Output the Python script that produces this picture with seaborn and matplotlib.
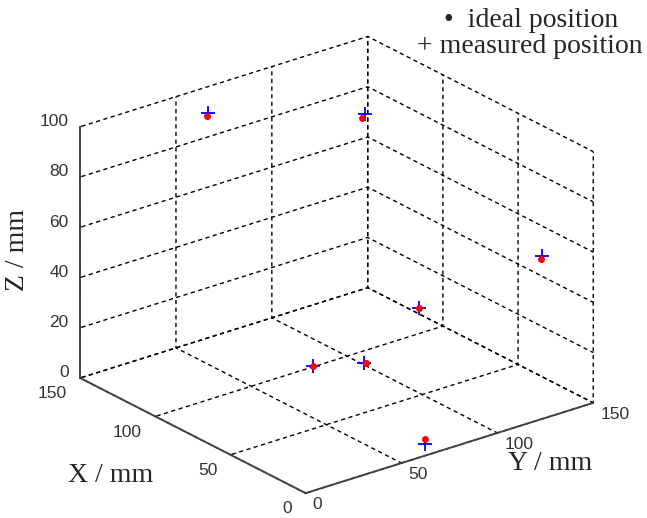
import matplotlib
matplotlib.use("Agg")
import numpy as np
import matplotlib.pyplot as plt
import seaborn as sns
from mpl_toolkits.mplot3d import proj3d

sns.set_style("white")
plt.rcParams['font.family'] = ['Liberation Sans', 'DejaVu Sans']

# --- data (mm) ---
ideal_x = [127, 86, 28, 80, 101, 90, 13.5]
ideal_y = [48, 97, 144.5, 121.6, 83, 102, 73]
ideal_z = [100, 100, 50, 20, 0, 0, 0]

meas_x = [127, 86.5, 28, 80, 101, 90.4, 9.5]
meas_y = [48.7, 98.6, 145, 121.6, 83, 101.2, 69.6]
meas_z = [101, 101, 51, 20, 0, 0, 0]

xy_ticks = [0, 50, 100, 150]
z_ticks = [0, 20, 40, 60, 80, 100]

W, H = 647, 518
fig = plt.figure(figsize=(W / 100, H / 100), dpi=100)
side = 568
cx, cy = 329, 272.5
ax = fig.add_axes([(cx - side / 2) / W, 1 - (cy + side / 2) / H, side / W, side / H],
                  projection='3d')
ax.set_proj_type('ortho')
ax.view_init(elev=23.6, azim=-38.1)

ax.plot(meas_x, meas_y, meas_z, linestyle='none', marker='+', color='blue',
        markersize=10, markeredgewidth=1.3)
ax.plot(ideal_x, ideal_y, ideal_z, linestyle='none', marker='o', color='red',
        markersize=5, markeredgewidth=0)

ax.set_xlim(150, 0)
ax.set_ylim(0, 150)
ax.set_zlim(0, 100)
ax.set_xticks(xy_ticks)
ax.set_yticks(xy_ticks)
ax.set_zticks(z_ticks)
ax.zaxis.set_ticks_position('lower')

GRID_LW = 1.0
DASH = (3.0, 2.5)
for axis in (ax.xaxis, ax.yaxis, ax.zaxis):
    axis.pane.set_facecolor((1, 1, 1, 0))
    axis.pane.set_edgecolor('none')
    axis._axinfo['grid'].update(color='black', linewidth=GRID_LW, linestyle=(0, DASH))
    axis._axinfo['tick'].update(inward_factor=0.0, outward_factor=0.1)
    axis.line.set_color('#444444')
    axis.line.set_linewidth(1.4)

ax.tick_params(labelsize=12.5, colors='#333333')
ax.xaxis.set_tick_params(pad=1.8)
ax.yaxis.set_tick_params(pad=-1.5)
ax.zaxis.set_tick_params(pad=-3.3)
plt.setp(ax.get_xticklabels(), ha='right', va='center')
plt.setp(ax.get_yticklabels(), ha='left', va='center')
plt.setp(ax.get_zticklabels(), ha='right', va='baseline')

fig.text(18 / W, 1 - 250 / H, "Z / mm", rotation=90, ha='center', va='center',
         family='Liberation Serif', fontsize=20)
fig.text(111 / W, 1 - 475 / H, "X / mm", ha='center', va='center',
         family='Liberation Serif', fontsize=20)
fig.text(550 / W, 1 - 463 / H, "Y / mm", ha='center', va='center',
         family='Liberation Serif', fontsize=20)
fig.text(531 / W, 1 - 27 / H, "\u2022  ideal position", ha='center', va='baseline',
         family='Liberation Serif', fontsize=20)
fig.text(530 / W, 1 - 53 / H, "+ measured position", ha='center', va='baseline',
         family='Liberation Serif', fontsize=20)

# grid lines overlap along the back edges of the box; shift the dash phase of
# each axis so that the overlapping dashes coincide instead of filling the gaps
fig.canvas.draw()


def edge_len_pt(p, q):
    pts = []
    for c in (p, q):
        x2, y2, _ = proj3d.proj_transform(*c, ax.get_proj())
        pts.append(ax.transData.transform((x2, y2)))
    return np.hypot(*(pts[1] - pts[0])) * 72 / fig.dpi


Lx = edge_len_pt((0, 150, 0), (150, 150, 0))
Ly = edge_len_pt((150, 0, 0), (150, 150, 0))
Lz = edge_len_pt((150, 150, 0), (150, 150, 100))
period = sum(DASH) * GRID_LW
half_on = DASH[0] * GRID_LW / 2
for axis, L in ((ax.xaxis, Ly), (ax.yaxis, Lz), (ax.zaxis, Lx)):
    off = ((half_on - L) % period) / GRID_LW
    axis._axinfo['grid']['linestyle'] = (off, DASH)

fig.savefig("out.png", dpi=100)
